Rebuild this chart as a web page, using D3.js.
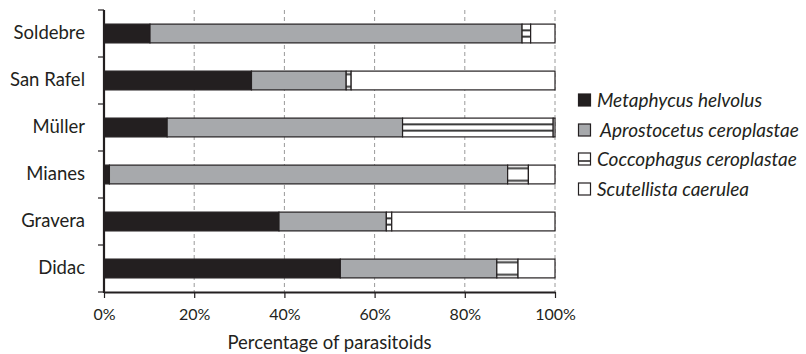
<!DOCTYPE html>
<html>
<head>
<meta charset="utf-8">
<script src="https://cdn.jsdelivr.net/npm/d3@7"></script>
<style>
  html, body { margin: 0; padding: 0; background: #fff; }
  svg { display: block; font-family: Lato, "Open Sans", sans-serif; }
</style>
</head>
<body>
<svg id="chart" width="806" height="354"></svg>
<script>
// Sites, top to bottom
const sites = ["Soldebre", "San Rafel", "Müller", "Mianes", "Gravera", "Didac"];

// Share of each parasitoid species per site (%)
const metaphycus   = [10.2, 32.7, 14.0,  1.2, 38.8, 52.4];
const aprostocetus = [82.5, 21.0, 52.2, 88.3, 23.8, 34.7];
const coccophagus  = [ 1.9,  1.1, 33.4,  4.6,  1.2,  4.7];
const scutellista  = [ 5.4, 45.2,  0.4,  5.9, 36.2,  8.2];

const speciesNames = ["Metaphycus helvolus", "Aprostocetus ceroplastae",
                      "Coccophagus ceroplastae", "Scutellista caerulea"];
const xTicks = [0, 20, 40, 60, 80, 100];
const xTitle = "Percentage of parasitoids";

const series = [metaphycus, aprostocetus, coccophagus, scutellista];
const fills = ["#231f20", "#a7a9ac", "url(#hstripe)", "#ffffff"];
const edge = "#231f20";
const ink = "#231f20";

const svg = d3.select("#chart");
const m = { left: 104, right: 251, top: 10, bottom: 62 };
const W = 806, H = 354;

const x = d3.scaleLinear().domain([0, 100]).range([m.left, W - m.right]);
const y = d3.scaleBand().domain(sites).range([m.top, H - m.bottom]).paddingInner(0.6).paddingOuter(0.3);
const yAxisScale = d3.scaleBand().domain(sites).range([m.top, H - m.bottom]);

// Horizontal stripe pattern for Coccophagus
const defs = svg.append("defs");
const bh = y.bandwidth();
const pat = defs.append("pattern").attr("id", "hstripe")
  .attr("patternUnits", "userSpaceOnUse").attr("width", 8).attr("height", bh)
  .attr("patternTransform", `translate(0, ${y(sites[0])})`);
pat.append("rect").attr("width", 8).attr("height", bh).attr("fill", "#fff");
[1 / 3, 2 / 3].forEach(f => pat.append("rect")
  .attr("x", 0).attr("y", bh * f - 1).attr("width", 8).attr("height", 2).attr("fill", "#3a3a3a"));

// Dashed gridlines
svg.append("g").selectAll("line").data(xTicks.filter(d => d > 0)).join("line")
  .attr("x1", d => x(d)).attr("x2", d => x(d))
  .attr("y1", m.top).attr("y2", H - m.bottom)
  .attr("stroke", "#9a9a9a").attr("stroke-width", 1).attr("stroke-dasharray", "4,3");

// Stacked bars
const stacked = sites.map((s, i) => {
  let acc = 0;
  return series.map((ser, k) => {
    const seg = { site: s, k, x0: acc, x1: acc + ser[i] };
    acc += ser[i];
    return seg;
  });
}).flat();

svg.append("g").selectAll("rect").data(stacked).join("rect")
  .attr("x", d => x(d.x0))
  .attr("y", d => y(d.site))
  .attr("width", d => x(d.x1) - x(d.x0))
  .attr("height", bh)
  .attr("fill", d => fills[d.k])
  .attr("stroke", edge).attr("stroke-width", 1.2);

// Axes
const font = "Lato, 'Open Sans', sans-serif";
const yAxis = svg.append("g").attr("transform", `translate(${m.left},0)`)
  .call(d3.axisLeft(yAxisScale).tickSize(0).tickPadding(19));
yAxis.select(".domain").remove();
yAxis.selectAll("text").attr("font-size", 18.5).attr("font-family", font).attr("fill", ink);
// y tick marks at band boundaries
const bounds = sites.map(s => yAxisScale(s)).concat([H - m.bottom]);
svg.append("g").selectAll("line").data(bounds).join("line")
  .attr("x1", m.left - 6).attr("x2", m.left)
  .attr("y1", d => d).attr("y2", d => d)
  .attr("stroke", ink).attr("stroke-width", 1.2);
svg.append("line").attr("x1", m.left).attr("x2", m.left)
  .attr("y1", m.top).attr("y2", H - m.bottom + 1)
  .attr("stroke", ink).attr("stroke-width", 2.2);

const xAxis = svg.append("g").attr("transform", `translate(0,${H - m.bottom})`)
  .call(d3.axisBottom(x).tickValues(xTicks).tickFormat(d => d + "%").tickSize(6).tickPadding(11).tickSizeOuter(0));
xAxis.select(".domain").attr("stroke", ink).attr("stroke-width", 2.2);
xAxis.selectAll(".tick line").attr("stroke", ink).attr("stroke-width", 1.2);
xAxis.selectAll("text").attr("font-size", 16).attr("font-family", font).attr("fill", ink);

svg.append("text").attr("x", (x(0) + x(100)) / 2).attr("y", 349)
  .attr("text-anchor", "middle").attr("font-size", 18.5).attr("font-family", font)
  .attr("fill", ink).text(xTitle);

// Legend
const legend = svg.append("g").attr("transform", "translate(578,0)");
const legY = [100, 130, 159, 189];
speciesNames.forEach((name, k) => {
  const g = legend.append("g").attr("transform", `translate(0,${legY[k]})`);
  g.append("rect").attr("x", 0.5).attr("y", -6).attr("width", 12).attr("height", 12)
    .attr("fill", k === 2 ? "#fff" : fills[k]).attr("stroke", edge).attr("stroke-width", 1.2);
  if (k === 2) {
    g.append("line").attr("x1", 0.5).attr("x2", 12.5).attr("y1", 2).attr("y2", 2)
      .attr("stroke", edge).attr("stroke-width", 1.5);
  }
  g.append("text").attr("x", k === 1 ? 22 : 19).attr("y", 0).attr("dy", "0.35em")
    .attr("font-size", 19).attr("font-style", "italic").attr("font-family", font)
    .attr("fill", ink).text(name);
});
</script>
</body>
</html>
